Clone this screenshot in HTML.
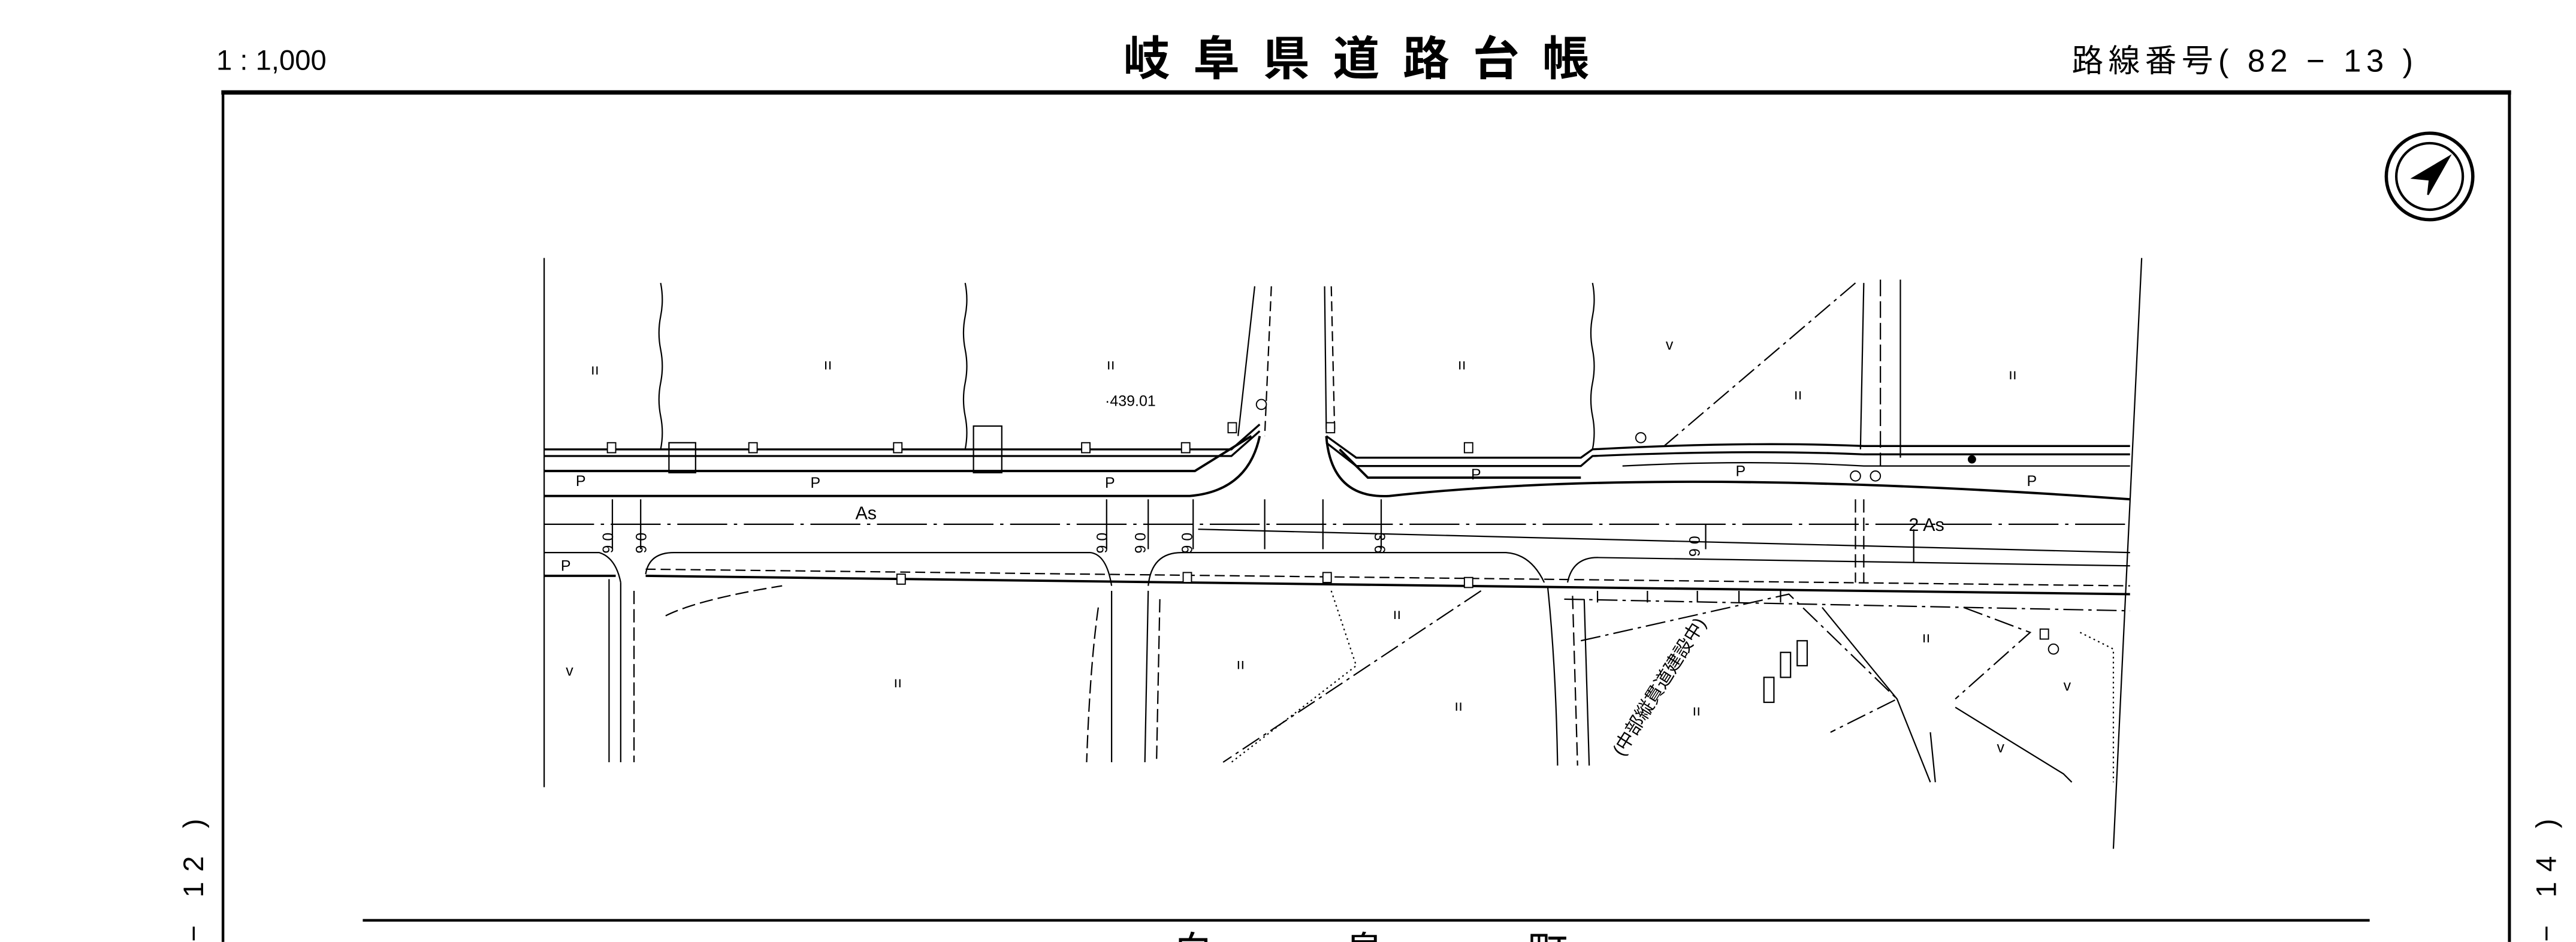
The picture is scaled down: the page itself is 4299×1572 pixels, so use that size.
<!DOCTYPE html>
<html><head><meta charset="utf-8"><style>
html,body{margin:0;padding:0;background:#fff;width:4299px;height:1572px;overflow:hidden;}
svg{display:block;overflow:hidden;}
text{font-family:"Liberation Sans","Noto Sans CJK JP",sans-serif;fill:#000;}
</style></head><body>
<svg width="4299" height="1572" viewBox="0 0 1548 566" xmlns="http://www.w3.org/2000/svg">
<rect width="1548" height="566" fill="#fff"/>
<!-- header -->
<text x="130" y="42" font-size="17">1 : 1,000</text>
<text x="675" y="45" font-size="28" font-weight="bold" letter-spacing="14" font-family="Noto Sans CJK JP,sans-serif">岐阜県道路台帳</text>
<text x="1245" y="43" font-size="19" letter-spacing="3" font-family="Noto Sans CJK JP,sans-serif">路線番号(  82 − 13  )</text>
<!-- frame -->
<g stroke="#000" fill="none">
<line x1="133" y1="55.5" x2="1509" y2="55.5" stroke-width="2.6"/>
<line x1="134" y1="55" x2="134" y2="566" stroke-width="1.6"/>
<line x1="1508" y1="55" x2="1508" y2="566" stroke-width="1.8"/>
<line x1="218" y1="553" x2="1424" y2="553" stroke-width="1.6"/>
</g>
<!-- side labels -->
<text transform="translate(122,486) rotate(-90)" text-anchor="end" font-size="17" letter-spacing="6" font-family="Noto Sans CJK JP,sans-serif">( 82 − 12 )</text>
<text transform="translate(1536,486) rotate(-90)" text-anchor="end" font-size="17" letter-spacing="6" font-family="Noto Sans CJK JP,sans-serif">( 82 − 14 )</text>
<text x="705" y="580" font-size="24" font-family="Noto Sans CJK JP,sans-serif">白</text>
<text x="808" y="580" font-size="24" font-family="Noto Sans CJK JP,sans-serif">鳥</text>
<text x="918" y="580" font-size="24" font-family="Noto Sans CJK JP,sans-serif">町</text>
<!-- compass -->
<g stroke="#000" fill="none">
<circle cx="1460" cy="106" r="26" stroke-width="2"/>
<circle cx="1460" cy="106" r="20" stroke-width="1.5"/>
<polygon points="1472,94 1450,107 1460,108 1459,117" fill="#000"/>
</g>
<!-- drawing -->
<g stroke="#000" fill="none" stroke-width="0.8">
<line x1="327" y1="155" x2="327" y2="473"/>
<line x1="1287" y1="155" x2="1270" y2="510"/>
<path d="M397 170 q2 10 0 20 q-2 10 0 20 q2 10 0 20 q-2 10 0 20 q2 10 0 20"/>
<path d="M580 170 q2 10 0 20 q-2 10 0 20 q2 10 0 20 q-2 10 0 20 q2 10 0 20"/>
<path d="M957 170 q2 10 0 20 q-2 10 0 20 q2 10 0 20 q-2 10 0 20 q2 10 0 20"/>
<path d="M754 172 L744 262"/>
<path d="M764 172 L760 262" stroke-dasharray="6 3"/>
<path d="M796 172 L797 258"/>
<path d="M800 172 L802 258" stroke-dasharray="6 3"/>
<line x1="1130" y1="168" x2="1130" y2="280" stroke-dasharray="10 3"/>
<line x1="1142" y1="168" x2="1142" y2="275"/>
<line x1="1120" y1="170" x2="1118" y2="270"/>
<path d="M1115 170 L1000 268" stroke-dasharray="12 3 2 3"/>
<path d="M327 270 H740 L757 255" stroke-width="1.2"/>
<path d="M327 274 H740 L757 259" stroke-width="1.2"/>
<path d="M327 283 H718 L752 262" stroke-width="1.4"/>
<rect x="402" y="266" width="16" height="18"/>
<rect x="585" y="256" width="17" height="28"/>
<path d="M327 298 H715 Q750 295 757 262" stroke-width="1.4"/>
<path d="M797 262 L815 275 H950 L957 270 Q1050 265 1120 268 H1280" stroke-width="1.2"/>
<path d="M797 266 L815 280 H950 L957 274 Q1050 270 1120 273 H1280" stroke-width="1.2"/>
<path d="M805 270 L822 287 H950" stroke-width="1.4"/>
<path d="M975 280 Q1050 276 1120 280 H1280" stroke-width="0.8"/>
<path d="M797 262 Q800 300 835 298 Q1000 280 1280 300" stroke-width="1.4"/>
<line x1="327" y1="315" x2="1280" y2="315" stroke-dasharray="30 4 2 4"/>
<line x1="720" y1="318" x2="1280" y2="332"/>
<path d="M327 332 H360 Q370 335 373 350"/>
<path d="M388 345 Q390 332 405 332 H655 Q665 333 668 352"/>
<path d="M690 352 Q692 332 710 332 H905 Q920 333 928 350"/>
<path d="M942 350 Q945 335 960 335 L1280 340"/>
<path d="M327 346 H370 M388 346 L1280 357" stroke-width="1.4"/>
<path d="M388 342 L1280 352" stroke-dasharray="6 3"/>
<path d="M940 360 L1280 367" stroke-dasharray="12 3 2 3"/>
<line x1="366" y1="348" x2="366" y2="458"/>
<line x1="373" y1="350" x2="373" y2="458"/>
<line x1="381" y1="355" x2="381" y2="458" stroke-dasharray="8 3"/>
<path d="M400 370 Q420 360 470 352" stroke-dasharray="8 3"/>
<path d="M660 365 Q655 400 653 458" stroke-dasharray="8 3"/>
<line x1="668" y1="355" x2="668" y2="458"/>
<line x1="690" y1="355" x2="688" y2="458"/>
<line x1="697" y1="360" x2="695" y2="458" stroke-dasharray="8 3"/>
<path d="M930 352 Q935 400 936 460"/>
<line x1="945" y1="358" x2="948" y2="460" stroke-dasharray="8 3"/>
<line x1="952" y1="360" x2="955" y2="460"/>
<path d="M890 355 L735 458" stroke-dasharray="12 3 2 3"/>
<path d="M800 355 L815 400 L740 458" stroke-dasharray="1 2"/>
<path d="M950 385 L1075 357 L1140 420 L1100 440" stroke-dasharray="12 3 2 3"/>
<path d="M1095 365 L1140 420 L1160 470"/>
<path d="M1180 365 L1220 380 L1175 420" stroke-dasharray="12 3 2 3"/>
<path d="M1175 425 L1240 465 L1245 470"/>
<path d="M1160 440 L1163 470"/>
<path d="M1250 380 L1270 390 L1270 470" stroke-dasharray="1 2"/>
<line x1="1115" y1="300" x2="1115" y2="350" stroke-dasharray="8 3"/>
<line x1="1120" y1="300" x2="1120" y2="350" stroke-dasharray="8 3"/>
<rect x="1070" y="392" width="6" height="15"/>
<rect x="1080" y="385" width="6" height="15"/>
<rect x="1060" y="407" width="6" height="15"/>
<path d="M760 300 V330 M795 300 V330 M1150 318 V338 M368 300 V330 M385 300 V330 M665 300 V330 M690 300 V330 M717 300 V330 M830 300 V330 M1025 315 V330"/>
<path d="M960 355 V362 M990 355 V362 M1020 355 V362 M1045 355 V362 M1070 355 V362"/>
</g>
<g stroke="#000" fill="#fff" stroke-width="0.7">
<rect x="365" y="266" width="5" height="6"/><rect x="450" y="266" width="5" height="6"/><rect x="537" y="266" width="5" height="6"/>
<rect x="650" y="266" width="5" height="6"/><rect x="710" y="266" width="5" height="6"/><rect x="738" y="254" width="5" height="6"/>
<rect x="797" y="254" width="5" height="6"/><rect x="880" y="266" width="5" height="6"/><rect x="539" y="345" width="5" height="6"/>
<rect x="711" y="344" width="5" height="6"/><rect x="795" y="344" width="5" height="6"/><rect x="880" y="347" width="5" height="6"/>
<rect x="1226" y="378" width="5" height="6"/>
<circle cx="758" cy="243" r="3"/><circle cx="986" cy="263" r="3"/><circle cx="1115" cy="286" r="3"/><circle cx="1127" cy="286" r="3"/>
<circle cx="1234" cy="390" r="3"/>
</g>
<circle cx="1185" cy="276" r="2.5" fill="#000"/>
<g font-size="9">
<text x="664" y="244">·439.01</text>
<text x="346" y="292">P</text><text x="487" y="293">P</text><text x="664" y="293">P</text>
<text x="884" y="288">P</text><text x="1043" y="286">P</text><text x="1218" y="292">P</text>
<text x="337" y="343">P</text>
<text x="514" y="312" font-size="11">As</text>
<text x="1147" y="319" font-size="11">2  As</text>
<text x="355" y="225">ıı</text><text x="495" y="222">ıı</text><text x="665" y="222">ıı</text><text x="876" y="222">ıı</text>
<text x="1078" y="240">ıı</text><text x="1207" y="228">ıı</text><text x="537" y="413">ıı</text><text x="743" y="402">ıı</text>
<text x="837" y="372">ıı</text><text x="874" y="427">ıı</text><text x="1017" y="430">ıı</text><text x="1155" y="386">ıı</text>
<text x="340" y="406">v</text><text x="1001" y="210">v</text><text x="1240" y="415">v</text><text x="1200" y="452">v</text>
<text transform="translate(362,320) rotate(90)">0 6</text>
<text transform="translate(382,320) rotate(90)">0 6</text>
<text transform="translate(659,320) rotate(90)">0 6</text>
<text transform="translate(682,320) rotate(90)">0 6</text>
<text transform="translate(710,320) rotate(90)">0 6</text>
<text transform="translate(826,320) rotate(90)">3 6</text>
<text transform="translate(1015,322) rotate(90)">0 6</text>
</g>
<text transform="translate(975,455) rotate(-58)" font-size="11" font-family="Noto Sans CJK JP,sans-serif">(中部縦貫道建設中)</text>
</svg>
</body></html>
